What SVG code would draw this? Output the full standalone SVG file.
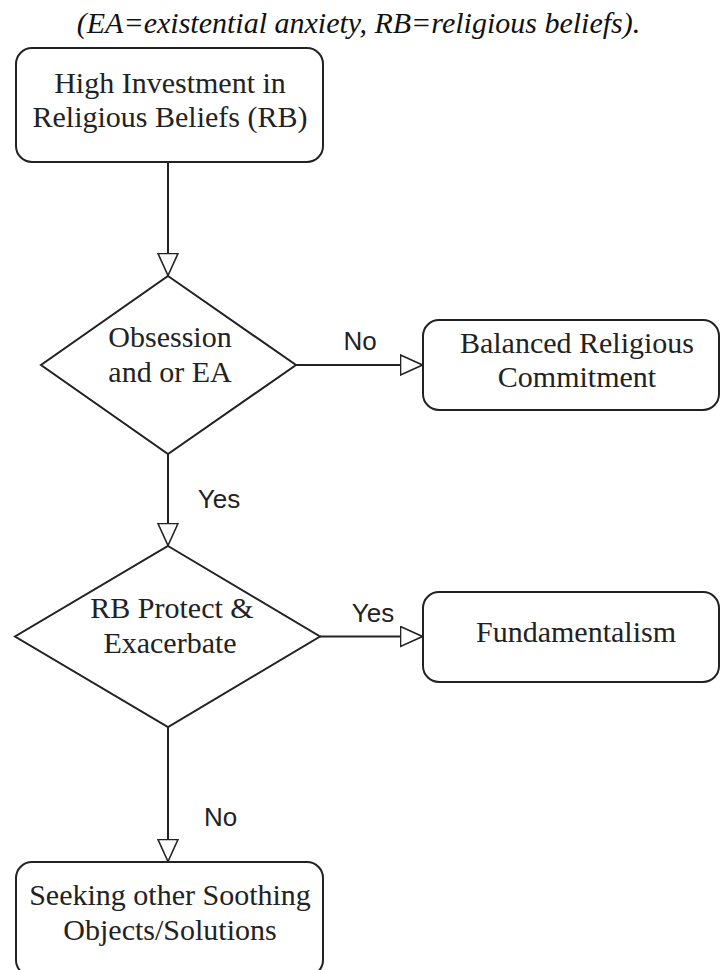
<svg xmlns="http://www.w3.org/2000/svg" width="720" height="970" viewBox="0 0 720 970">
<style>
.node{fill:#fff;stroke:#222;stroke-width:2}
.nt{font-family:'Liberation Serif','DejaVu Serif',serif;font-size:30px;fill:#222;text-anchor:middle}
.title{font-family:'Liberation Serif','DejaVu Serif',serif;font-size:30px;font-style:italic;fill:#111;text-anchor:middle}
.edge{fill:none;stroke:#222;stroke-width:2}
.lbl{font-family:'Liberation Sans',Arial,sans-serif;font-size:26px;fill:#222;text-anchor:middle}
</style>
<defs>
<marker id="arr" viewBox="0 0 24 22" refX="23.5" refY="11" markerWidth="24" markerHeight="22" markerUnits="userSpaceOnUse" orient="auto">
<path d="M1,1 L23,11 L1,21 Z" fill="#fff" stroke="#222" stroke-width="1.6"/>
</marker>
</defs>
<rect width="720" height="970" fill="#fff"/>
<text class="title" x="358.5" y="33">(EA=existential anxiety, RB=religious beliefs).</text>

<g id="connectors">
<line class="edge" x1="168" y1="162" x2="168" y2="276" marker-end="url(#arr)"/>
<line class="edge" x1="296" y1="365" x2="423" y2="365" marker-end="url(#arr)"/>
<line class="edge" x1="168" y1="454" x2="168" y2="546" marker-end="url(#arr)"/>
<line class="edge" x1="320" y1="636.5" x2="423" y2="636.5" marker-end="url(#arr)"/>
<line class="edge" x1="168" y1="727" x2="168" y2="862" marker-end="url(#arr)"/>
<text class="lbl" x="360" y="350">No</text>
<text class="lbl" x="219" y="508">Yes</text>
<text class="lbl" x="373" y="622">Yes</text>
<text class="lbl" x="220.5" y="826">No</text>
</g>

<g id="n-high">
<rect class="node" x="16" y="48" width="307" height="114" rx="16"/>
<text class="nt" x="170" y="93">High Investment in</text>
<text class="nt" x="170" y="127">Religious Beliefs (RB)</text>
</g>

<g id="n-obsession">
<polygon class="node" points="168,276 296,365 168,454 41,365"/>
<text class="nt" x="170" y="347">Obsession</text>
<text class="nt" x="170" y="382">and or EA</text>
</g>

<g id="n-balanced">
<rect class="node" x="423" y="320" width="296" height="90" rx="16"/>
<text class="nt" x="577" y="353">Balanced Religious</text>
<text class="nt" x="577" y="387">Commitment</text>
</g>

<g id="n-protect">
<polygon class="node" points="168,546 320,636.5 168,727 15,636.5"/>
<text class="nt" x="172" y="618">RB Protect &amp;</text>
<text class="nt" x="170" y="653">Exacerbate</text>
</g>

<g id="n-fund">
<rect class="node" x="423" y="592" width="296" height="90" rx="16"/>
<text class="nt" x="576" y="642">Fundamentalism</text>
</g>

<g id="n-seeking">
<rect class="node" x="16" y="862" width="307" height="114" rx="16"/>
<text class="nt" x="170" y="905">Seeking other Soothing</text>
<text class="nt" x="170" y="940">Objects/Solutions</text>
</g>
</svg>
